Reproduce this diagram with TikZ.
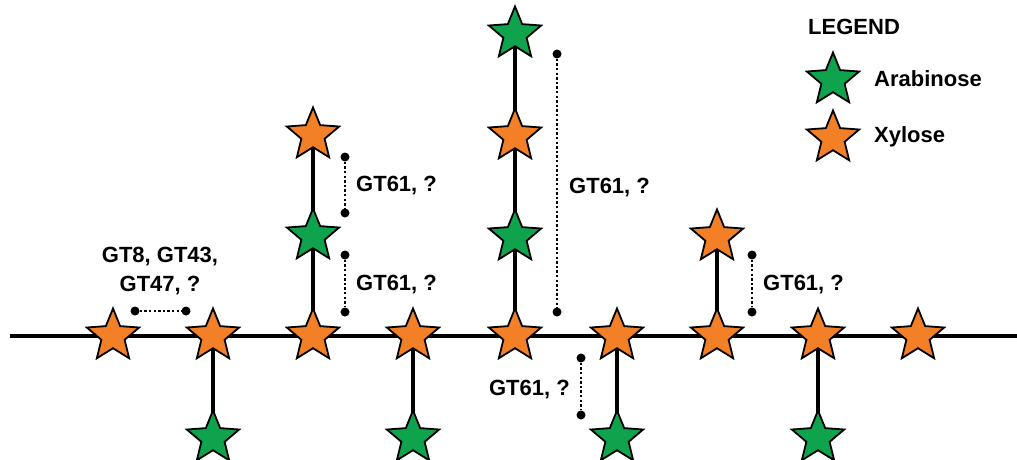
\documentclass[tikz,border=0pt]{standalone}
\usepackage{fontspec}
\setmainfont{Liberation Sans}
\usetikzlibrary{shapes.geometric,backgrounds}
\definecolor{arab}{RGB}{16,163,78}
\definecolor{xyl}{RGB}{243,128,38}
\tikzset{
  sug/.style={star, star points=5, star point ratio=2.25, minimum size=55pt, inner sep=0pt, draw=black, line width=1.8pt},
  ara/.style={sug, fill=arab},
  xy/.style={sug, fill=xyl},
  bond/.style={line width=3.2pt, black},
  enz/.style={line width=2.6pt, dash pattern=on 2.4pt off 2.2pt},
  tip/.style={circle, fill=black, inner sep=0pt, minimum size=9pt},
  lab/.style={font=\bfseries\fontsize{22}{26}\selectfont, inner sep=0pt}
}
\begin{document}
\begin{tikzpicture}[x=1pt,y=-1pt]
\useasboundingbox (0,0) rectangle (1017,459);
% backbone stars
\foreach \n/\x in {1/113,2/213,3/313,4/413,5/515,6/617,7/717,8/818,9/918}
  \node[xy] (b\n) at (\x,336) {};
\coordinate (L) at (10,336);
\coordinate (R) at (1017,336);
% lower arabinose
\node[ara] (d2) at (213,438) {};
\node[ara] (d4) at (413,438) {};
\node[ara] (d6) at (617,438) {};
\node[ara] (d8) at (818,438) {};
% upper branches
\node[ara] (u3a) at (313,236) {};
\node[xy] (u3b) at (313,135) {};
\node[ara] (u5a) at (515,237) {};
\node[xy] (u5b) at (515,136) {};
\node[ara] (u5c) at (515,34) {};
\node[xy] (u7a) at (717,237) {};
\begin{scope}[on background layer]
  \draw[bond] (L) -- (R);
  \draw[bond] (b2.center) -- (d2.center);
  \draw[bond] (b4.center) -- (d4.center);
  \draw[bond] (b6.center) -- (d6.center);
  \draw[bond] (b8.center) -- (d8.center);
  \draw[bond] (b3.center) -- (u3a.center) -- (u3b.center);
  \draw[bond] (b5.center) -- (u5a.center) -- (u5b.center) -- (u5c.center);
  \draw[bond] (b7.center) -- (u7a.center);
\end{scope}
% enzyme markers
\node[tip] (e1a) at (135,311) {}; \node[tip] (e1b) at (186,311) {};
\draw[enz] (e1a) -- (e1b);
\node[lab, align=center] (t1) at (160,271) {GT8, GT43,\\[3pt]GT47, ?};
\node[tip] (e2a) at (345,157) {}; \node[tip] (e2b) at (345,213) {};
\draw[enz] (e2a) -- (e2b);
\node[lab, anchor=west] (t2) at (356,186) {GT61, ?};
\node[tip] (e3a) at (345,255) {}; \node[tip] (e3b) at (345,312) {};
\draw[enz] (e3a) -- (e3b);
\node[lab, anchor=west] (t3) at (356,285) {GT61, ?};
\node[tip] (e4a) at (557,54) {}; \node[tip] (e4b) at (557,312) {};
\draw[enz] (e4a) -- (e4b);
\node[lab, anchor=west] (t4) at (569,188) {GT61, ?};
\node[tip] (e5a) at (581,358) {}; \node[tip] (e5b) at (581,415) {};
\draw[enz] (e5a) -- (e5b);
\node[lab, anchor=east] (t5) at (570,390) {GT61, ?};
\node[tip] (e6a) at (752,255) {}; \node[tip] (e6b) at (752,312) {};
\draw[enz] (e6a) -- (e6b);
\node[lab, anchor=west] (t6) at (763,285) {GT61, ?};
% legend
\node[lab, anchor=west] (lg) at (808,27) {LEGEND};
\node[ara] (la) at (833,80) {};
\node[lab, anchor=west] (lat) at (874,79) {Arabinose};
\node[xy] (lx) at (833,138) {};
\node[lab, anchor=west] (lxt) at (874,137) {Xylose};
\end{tikzpicture}
\end{document}
